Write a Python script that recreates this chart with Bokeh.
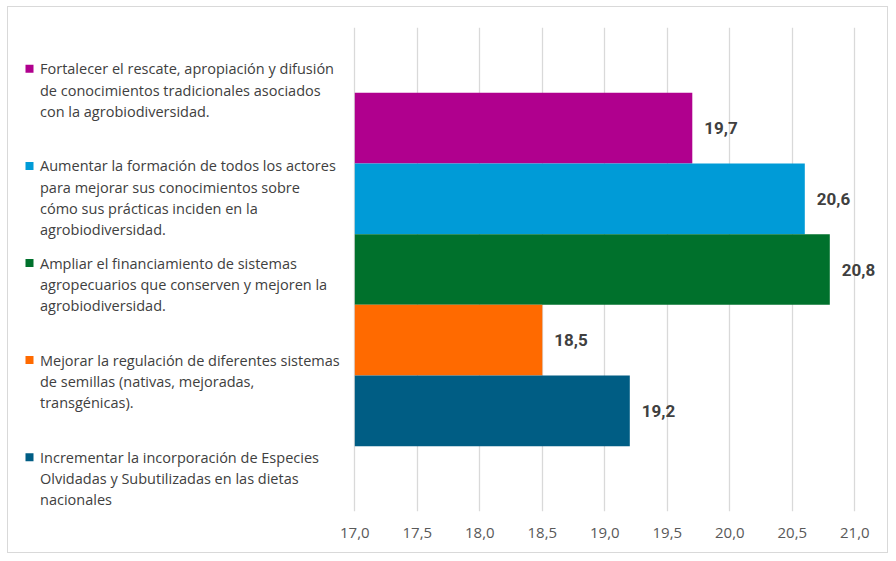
import numpy as np
from bokeh.plotting import figure
from bokeh.models import ColumnDataSource, FixedTicker, CustomJSTickFormatter
from bokeh.embed import file_html
from bokeh.resources import INLINE
from bokeh.core.properties import value

# ---------------- data ----------------
legend_lines = [
    ["Fortalecer el rescate, apropiación y difusión",
     "de conocimientos tradicionales asociados",
     "con la agrobiodiversidad."],
    ["Aumentar la formación de todos los actores",
     "para mejorar sus conocimientos sobre",
     "cómo sus prácticas inciden en la",
     "agrobiodiversidad."],
    ["Ampliar el financiamiento de sistemas",
     "agropecuarios que conserven y mejoren la",
     "agrobiodiversidad."],
    ["Mejorar la regulación de diferentes sistemas",
     "de semillas (nativas, mejoradas,",
     "transgénicas)."],
    ["Incrementar la incorporación de Especies",
     "Olvidadas y Subutilizadas en las dietas",
     "nacionales"],
]
values = [19.7, 20.6, 20.8, 18.5, 19.2]
value_labels = ["19,7", "20,6", "20,8", "18,5", "19,2"]
colors = ["#B0008E", "#009BD7", "#00712C", "#FF6A00", "#005D84"]
tick_values = [17.0, 17.5, 18.0, 18.5, 19.0, 19.5, 20.0, 20.5, 21.0]
tick_labels = ["17,0", "17,5", "18,0", "18,5", "19,0", "19,5", "20,0", "20,5", "21,0"]

# ---------------- layout ----------------
W, H = 881, 547
MB_TOP, MB_BOTTOM, MB_RIGHT = 20, 43, 4
FRAME_W = W - MB_RIGHT
FRAME_H = H - MB_TOP - MB_BOTTOM
PX_X = 125.0           # pixels per x unit
X0_PX = 346.3          # canvas px of first tick
PX_Y = 70.74           # pixels per bar slot
n = len(values)
ypos = np.arange(n)[::-1].astype(float)
ymid = (n - 1) / 2.0
x_start = tick_values[0] - X0_PX / PX_X
x_end = x_start + FRAME_W / PX_X
y_start = ymid - FRAME_H / 2.0 / PX_Y
y_end = ymid + FRAME_H / 2.0 / PX_Y

def px_to_x(px):
    return x_start + px / PX_X

def px_to_y(px):
    return y_end - px / PX_Y

p = figure(width=W, height=H, output_backend="svg", toolbar_location=None,
           x_range=(x_start, x_end), y_range=(y_start, y_end),
           y_axis_location=None, min_border_left=0, min_border_right=MB_RIGHT,
           min_border_top=MB_TOP, min_border_bottom=MB_BOTTOM)
p.styles = {"border": "1px solid #d9d9d9", "margin-left": "7px", "margin-top": "6px"}
p.outline_line_color = None
p.background_fill_color = "white"
p.border_fill_color = "white"

ticker = FixedTicker(ticks=tick_values)
p.xaxis.ticker = ticker
p.xaxis.formatter = CustomJSTickFormatter(
    args=dict(vals=tick_values, labs=tick_labels),
    code="""
const i = vals.findIndex(v => Math.abs(v - tick) < 1e-9);
return i >= 0 ? labs[i] : '';
""")
p.xaxis.axis_line_color = None
p.xaxis.major_tick_line_color = None
p.xaxis.minor_tick_line_color = None
p.xaxis.major_label_standoff = 10
p.xaxis.major_label_text_font = "Open Sans"
p.xaxis.major_label_text_font_size = "15px"
p.xaxis.major_label_text_color = "#595959"

p.xgrid.ticker = ticker
p.xgrid.grid_line_color = "#d9d9d9"
p.xgrid.grid_line_width = 1.3
p.ygrid.visible = False

bars = ColumnDataSource(dict(y=ypos, right=values, color=colors, lab=value_labels))
p.hbar(y="y", left=tick_values[0], right="right", height=1.0,
       fill_color="color", line_color=None, source=bars)
p.text(x="right", y="y", text="lab", source=bars, x_offset=12,
       text_font=value("Roboto"), text_font_style="bold", text_font_size="17px",
       text_color="#404040", text_align="left", text_baseline="middle")

# legend
LEG_FIRST_PX = 41.3
LEG_STEP_PX = 97.1
LINE_PX = 21.3
MARK_PX = 21.0
TEXT_PX = 31.5
lx, ly, lt = [], [], []
mx, my = [], []
for i, lines in enumerate(legend_lines):
    base = LEG_FIRST_PX + i * LEG_STEP_PX
    mx.append(px_to_x(MARK_PX))
    my.append(px_to_y(base))
    for j, line in enumerate(lines):
        lx.append(px_to_x(TEXT_PX))
        ly.append(px_to_y(base + j * LINE_PX))
        lt.append(line)
p.scatter(x=mx, y=my, marker="square", size=8, fill_color=colors, line_color=None)
p.text(x=lx, y=ly, text=lt, text_font=value("Open Sans"), text_font_size="14.5px",
       text_color="#404040", text_align="left", text_baseline="middle")

open("out.html", "w").write(file_html(p, INLINE))
